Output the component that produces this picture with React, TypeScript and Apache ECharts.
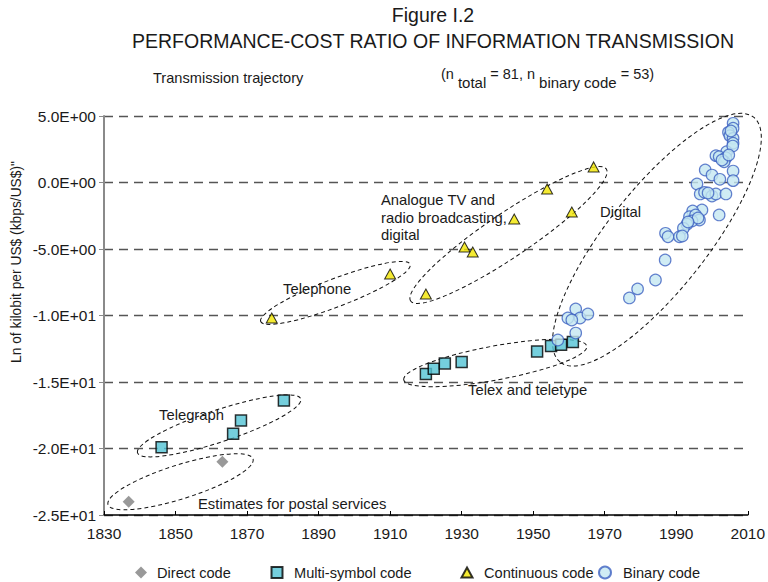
import React, { useEffect, useRef } from "react";
import * as echarts from "echarts";

const FONT = '"Liberation Sans", Arial, Helvetica, sans-serif';

// ---- data ----
const xTicks = [1830, 1850, 1870, 1890, 1910, 1930, 1950, 1970, 1990, 2010];
const yTicks = [5, 0, -5, -10, -15, -20, -25];
const yTickLabels = ["5.0E+00", "0.0E+00", "-5.0E+00", "-1.0E+01", "-1.5E+01", "-2.0E+01", "-2.5E+01"];

const directYears = [1836.9, 1863.1];
const directValues = [-24.0, -21.0];

const multiYears = [1846.1, 1866.1, 1868.3, 1880.3, 1920.0, 1922.2, 1925.3, 1930.0, 1951.1, 1955.0, 1957.8, 1961.1];
const multiValues = [-19.9, -18.9, -17.9, -16.4, -14.4, -14.0, -13.6, -13.5, -12.7, -12.3, -12.2, -12.0];

const contYears = [1876.9, 1910.0, 1920.0, 1930.8, 1933.1, 1944.7, 1953.9, 1960.8, 1966.9];
const contValues = [-10.19, -6.88, -8.38, -4.85, -5.23, -2.74, -0.49, -2.22, 1.17];

const binaryYears = [
  2005.9, 2005.9, 2004.6, 2005.0, 2005.9, 2005.9, 2004.1, 2001.1, 2002.0, 2003.9,
  2003.4, 2005.9, 1998.1, 2000.0, 2002.2, 2005.9, 1995.8, 1996.7, 1997.9, 2000.0,
  2001.1, 2003.9, 1997.2, 1994.6, 1993.7, 1995.4, 1996.5, 1994.4, 1993.0, 1992.0,
  2002.0, 1987.0, 1987.7, 1990.9, 1991.7, 1956.9, 1961.9, 1959.7, 1961.9, 1963.1,
  1965.3, 1960.8, 1976.9, 1979.2, 1984.2, 1986.9, 2005.3, 2005.8, 2002.8, 1996.1,
  1993.3, 2004.7, 1998.9,
];
const binaryValues = [
  4.45, 4.08, 3.77, 3.52, 3.32, 2.95, 2.32, 2.02, 1.94, 1.86,
  1.56, 0.86, 0.94, 0.56, 0.24, 0.14, -0.11, -0.86, -0.74, -1.02,
  -0.86, -0.86, -2.07, -2.14, -2.57, -2.44, -2.82, -2.89, -3.14, -3.44,
  -2.44, -3.82, -4.08, -4.08, -4.02, -11.84, -11.32, -10.19, -9.51, -10.19,
  -9.89, -10.34, -8.68, -8.0, -7.33, -5.83, 3.87, 2.74, 1.69, -2.67,
  -2.97, 2.07, -0.79,
];

const seriesNames = ["Direct code", "Multi-symbol code", "Continuous code", "Binary code"];

// ---- annotation ellipses: centre in data units, radii in pixels, tilt in degrees ----
const trajYears = [1851.4, 1862.2, 1894.7, 1943.1, 1939.4, 1984.6];
const trajValues = [-22.5, -18.3, -8.3, -3.95, -13.57, -4.3];
const trajRx = [76, 86, 80, 118, 93, 156];
const trajRy = [17, 16, 14, 22, 17, 50];
const trajTilt = [17.5, 18.3, 21, 34, 10.4, 51.7];

const pairs = (xs: number[], ys: number[]) => xs.map((x, i) => [x, ys[i]]);

export default function App() {
  const ref = useRef<HTMLDivElement>(null);

  useEffect(() => {
    if (!ref.current) return;
    const chart = echarts.init(ref.current, undefined, { renderer: "svg" });

    const option: any = {
      animation: false,
      backgroundColor: "#ffffff",
      textStyle: { fontFamily: FONT },
      grid: { left: 104, right: 16, top: 116, bottom: 67, containLabel: false },
      xAxis: {
        type: "value",
        min: 1830,
        max: 2010,
        axisLine: { show: true, onZero: false, lineStyle: { color: "#000", width: 1.5 } },
        axisTick: { show: true, inside: true, length: 4, customValues: xTicks, lineStyle: { color: "#000", width: 1 } },
        axisLabel: {
          customValues: xTicks,
          color: "#1a1a1a",
          fontSize: 15.5,
          fontFamily: FONT,
          margin: 10,
          formatter: (v: number) => String(v),
        },
        splitLine: { show: false },
      },
      yAxis: {
        type: "value",
        min: -25,
        max: 5,
        interval: 5,
        axisLine: { show: true, onZero: false, lineStyle: { color: "#8a8a8a", width: 2 } },
        axisTick: { show: true, length: 5, lineStyle: { color: "#8a8a8a", width: 1 } },
        axisLabel: {
          color: "#1a1a1a",
          fontSize: 15.5,
          fontFamily: FONT,
          margin: 8,
          formatter: (v: number) => {
            const i = yTicks.indexOf(v);
            return i >= 0 ? yTickLabels[i] : "";
          },
        },
        splitLine: { show: true, lineStyle: { color: "#555", width: 1.3, type: [9, 6] } },
      },
      legend: [
        { name: seriesNames[0], icon: "diamond", left: 135, w: 12, h: 12, pad: 5 },
        { name: seriesNames[1], icon: "rect", left: 270.5, w: 11, h: 11, pad: 6.5 },
        { name: seriesNames[2], icon: "triangle", left: 460.5, w: 11, h: 10, pad: 6.5 },
        { name: seriesNames[3], icon: "circle", left: 598, w: 12, h: 12, pad: 7 },
      ].map((l) => ({
        data: [{ name: l.name, icon: l.icon }],
        left: l.left,
        top: 565,
        itemWidth: l.w,
        itemHeight: l.h,
        padding: 0,
        selectedMode: false,
        textStyle: { fontSize: 14.6, color: "#1a1a1a", fontFamily: FONT, padding: [0, 0, 0, l.pad] },
      })),
      series: [
        {
          name: seriesNames[0],
          type: "scatter",
          symbol: "diamond",
          symbolSize: 12,
          itemStyle: { color: "#808080", borderWidth: 0 },
          data: pairs(directYears, directValues),
        },
        {
          name: seriesNames[1],
          type: "scatter",
          symbol: "rect",
          symbolSize: 11,
          itemStyle: { color: "#52c3d4", borderColor: "#000", borderWidth: 1.5 },
          data: pairs(multiYears, multiValues),
        },
        {
          name: seriesNames[2],
          type: "scatter",
          symbol: "triangle",
          symbolSize: [11, 10],
          itemStyle: { color: "#f2e600", borderColor: "#000", borderWidth: 1 },
          data: pairs(contYears, contValues),
        },
        {
          name: seriesNames[3],
          type: "scatter",
          symbol: "circle",
          symbolSize: 11.5,
          itemStyle: { color: "#c4e7f1", borderColor: "#3c60c0", borderWidth: 1.2 },
          data: pairs(binaryYears, binaryValues),
        },
      ],
    };

    chart.setOption(option);

    const txt = (text: string, x: number, y: number, size = 14.8, extra: any = {}, rotation = 0) => ({
      type: "text",
      x,
      y,
      rotation,
      silent: true,
      z: 5,
      style: {
        text,
        fill: "#1a1a1a",
        fontSize: size,
        fontFamily: FONT,
        align: "left",
        verticalAlign: "middle",
        ...extra,
      },
    });

    const ellipses = trajYears.map((yr, i) => {
      const p = chart.convertToPixel({ gridIndex: 0 }, [yr, trajValues[i]]) as number[];
      return {
        type: "ellipse",
        x: p[0],
        y: p[1],
        rotation: (trajTilt[i] * Math.PI) / 180,
        silent: true,
        z: 1,
        shape: { cx: 0, cy: 0, rx: trajRx[i], ry: trajRy[i] },
        style: { fill: "none", stroke: "#111", lineWidth: 1, lineDash: [4, 3] },
      };
    });

    chart.setOption({
      graphic: [
        txt("Figure I.2", 433, 15, 19.5, { align: "center" }),
        txt("PERFORMANCE-COST RATIO OF INFORMATION TRANSMISSION", 433, 41, 19.5, { align: "center" }),
        txt("Transmission trajectory", 153, 78, 14.6),
        {
          type: "text",
          x: 441,
          y: 78,
          silent: true,
          style: {
            text: "{m|(n }{s|total}{m| = 81, n }{s|binary code}{m| = 53)}",
            fontFamily: FONT,
            fill: "#1a1a1a",
            align: "left",
            verticalAlign: "middle",
            rich: {
              m: { fontSize: 14.5, fontFamily: FONT, fill: "#1a1a1a", lineHeight: 24, verticalAlign: "top" },
              s: { fontSize: 15, fontFamily: FONT, fill: "#1a1a1a", lineHeight: 24, verticalAlign: "bottom" },
            },
          },
        },
        txt("Ln of kilobit per US$ (kbps/US$)\"", 16, 262, 13.8, { align: "center" }, Math.PI / 2),
        txt("Analogue TV and", 381, 200),
        txt("radio broadcasting,", 381, 218),
        txt("digital", 381, 235),
        txt("Digital", 600, 212),
        txt("Telephone", 283, 289),
        txt("Telegraph", 159, 415),
        txt("Telex and teletype", 468, 390),
        txt("Estimates for postal services", 198, 504),
        ...ellipses,
      ],
    });

    return () => chart.dispose();
  }, []);

  return (
    <div
      ref={ref}
      style={{ position: "fixed", left: 0, top: 0, width: 768, height: 582, background: "#fff" }}
    />
  );
}
